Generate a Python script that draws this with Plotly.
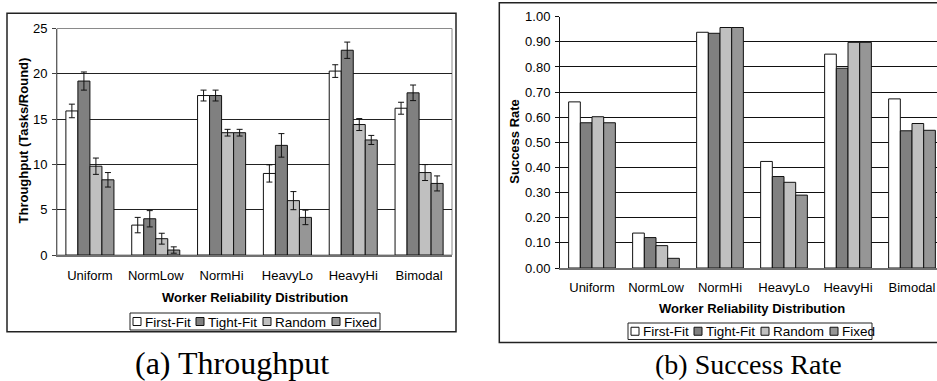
import plotly.graph_objects as go

W, H = 937, 381

categories = ["Uniform", "NormLow", "NormHi", "HeavyLo", "HeavyHi", "Bimodal"]
series_names = ["First-Fit", "Tight-Fit", "Random", "Fixed"]
series_colors = ["#FFFFFF", "#808080", "#C0C0C0", "#969696"]

# (a) Throughput (Tasks/Round)
thr_first = [15.9, 3.3, 17.6, 9.0, 20.3, 16.2]
thr_tight = [19.2, 4.0, 17.6, 12.1, 22.6, 17.9]
thr_random = [9.8, 1.8, 13.5, 6.0, 14.4, 9.1]
thr_fixed = [8.3, 0.55, 13.5, 4.15, 12.7, 7.9]
err_first = [0.75, 0.85, 0.6, 0.95, 0.7, 0.66]
err_tight = [1.0, 0.9, 0.6, 1.3, 0.9, 0.86]
err_random = [0.9, 0.6, 0.37, 1.0, 0.66, 0.88]
err_fixed = [0.8, 0.35, 0.37, 0.8, 0.5, 0.83]

# (b) Success rate
sr_first = [0.661, 0.139, 0.938, 0.424, 0.851, 0.673]
sr_tight = [0.578, 0.121, 0.934, 0.364, 0.795, 0.546]
sr_random = [0.602, 0.089, 0.957, 0.341, 0.898, 0.575]
sr_fixed = [0.578, 0.0385, 0.957, 0.290, 0.898, 0.548]

thr_ticks = [0, 5, 10, 15, 20, 25]
sr_ticks = [0.0, 0.1, 0.2, 0.3, 0.4, 0.5, 0.6, 0.7, 0.8, 0.9, 1.0]

SANS = "Liberation Sans, Arial, sans-serif"
SERIF = "Liberation Serif, Times New Roman, serif"


def px(x):
    return x / W


def py(y):
    return 1 - y / H


fig = go.Figure()

thr_vals = [thr_first, thr_tight, thr_random, thr_fixed]
thr_errs = [err_first, err_tight, err_random, err_fixed]
sr_vals = [sr_first, sr_tight, sr_random, sr_fixed]

for name, color, vals, errs in zip(series_names, series_colors, thr_vals, thr_errs):
    fig.add_trace(go.Bar(
        x=categories, y=vals, name=name, xaxis="x", yaxis="y",
        marker=dict(color=color, line=dict(color="#111111", width=1)),
        error_y=dict(type="data", array=errs, visible=True,
                     color="#111111", thickness=1, width=3),
        showlegend=False,
    ))

for name, color, vals in zip(series_names, series_colors, sr_vals):
    fig.add_trace(go.Bar(
        x=categories, y=vals, name=name, xaxis="x2", yaxis="y2",
        marker=dict(color=color, line=dict(color="#111111", width=1)),
        showlegend=False,
    ))

# plot areas (pixels)
L_x0, L_x1, L_y0, L_y1 = 57, 452, 28.5, 255
R_x0, R_x1, R_y0, R_y1 = 560, 937, 16.7, 268
cat_w_right = 64.0
r_range_max = -0.5 + (R_x1 - R_x0) / cat_w_right

tickfont = dict(family=SANS, size=13, color="#000000")

fig.update_layout(
    width=W, height=H,
    margin=dict(l=0, r=0, t=0, b=0, autoexpand=False),
    paper_bgcolor="#FFFFFF", plot_bgcolor="#FFFFFF",
    barmode="group", bargap=0.27, bargroupgap=0,
    showlegend=False,
    xaxis=dict(
        domain=[px(L_x0), px(L_x1)], anchor="y", automargin=False,
        type="category", range=[-0.5, 5.5],
        showline=True, linecolor="#707070", linewidth=2,
        ticks="", tickfont=tickfont, ticklabelstandoff=7,
        showgrid=False, zeroline=False, fixedrange=True,
    ),
    yaxis=dict(
        domain=[py(L_y1), py(L_y0)], anchor="x", automargin=False,
        range=[0, 25], tickvals=thr_ticks,
        showline=True, linecolor="#606060", linewidth=1,
        ticks="outside", ticklen=4, tickcolor="#404040",
        tickfont=tickfont, ticklabelstandoff=2,
        showgrid=True, gridcolor="#222222", gridwidth=1,
        zeroline=False, fixedrange=True,
    ),
    xaxis2=dict(
        domain=[px(R_x0), 1.0], anchor="y2", automargin=False,
        type="category", range=[-0.5, r_range_max],
        showline=True, linecolor="#707070", linewidth=2,
        ticks="", tickfont=tickfont, ticklabelstandoff=6,
        showgrid=False, zeroline=False, fixedrange=True,
    ),
    yaxis2=dict(
        domain=[py(R_y1), py(R_y0)], anchor="x2", automargin=False,
        range=[0, 1.0], tickvals=sr_ticks, tickformat=".2f",
        showline=True, linecolor="#111111", linewidth=1,
        ticks="outside", ticklen=4, tickcolor="#111111",
        tickfont=tickfont, ticklabelstandoff=2,
        showgrid=True, gridcolor="#111111", gridwidth=1,
        zeroline=False, fixedrange=True,
    ),
)

shapes = []
annotations = []

# outer chart frames
shapes.append(dict(type="rect", xref="paper", yref="paper",
                   x0=px(7), x1=px(456), y0=py(331.7), y1=py(13.3),
                   line=dict(color="#222222", width=1.5), layer="below"))
shapes.append(dict(type="rect", xref="paper", yref="paper",
                   x0=px(499.3), x1=px(990), y0=py(342.5), y1=py(2.7),
                   line=dict(color="#222222", width=1.5), layer="below"))
# left plot-area border (gray)
shapes.append(dict(type="rect", xref="paper", yref="paper",
                   x0=px(L_x0), x1=px(L_x1), y0=py(L_y1), y1=py(L_y0),
                   line=dict(color="#8a8a8a", width=1), layer="below"))

# axis titles
annotations.append(dict(text="<b>Worker Reliability Distribution</b>", x=px(255), y=py(297),
                        xref="paper", yref="paper", showarrow=False,
                        xanchor="center", yanchor="middle",
                        font=dict(family=SANS, size=13, color="#000")))
annotations.append(dict(text="<b>Worker Reliability Distribution</b>", x=px(752), y=py(308),
                        xref="paper", yref="paper", showarrow=False,
                        xanchor="center", yanchor="middle",
                        font=dict(family=SANS, size=13, color="#000")))
annotations.append(dict(text="<b>Throughput (Tasks/Round)</b>", x=px(23), y=py(140.5),
                        xref="paper", yref="paper", showarrow=False, textangle=-90,
                        xanchor="center", yanchor="middle",
                        font=dict(family=SANS, size=13, color="#000")))
annotations.append(dict(text="<b>Success Rate</b>", x=px(515), y=py(141.7),
                        xref="paper", yref="paper", showarrow=False, textangle=-90,
                        xanchor="center", yanchor="middle",
                        font=dict(family=SANS, size=13, color="#000")))

# captions
annotations.append(dict(text="(a) Throughput", x=px(231.5), y=py(363),
                        xref="paper", yref="paper", showarrow=False,
                        xanchor="center", yanchor="middle",
                        font=dict(family=SERIF, size=32, color="#000")))
annotations.append(dict(text="(b) Success Rate", x=px(748), y=py(364),
                        xref="paper", yref="paper", showarrow=False,
                        xanchor="center", yanchor="middle",
                        font=dict(family=SERIF, size=28, color="#000")))

# custom legends
sq_off = [3, 66, 133, 202]
def add_legend(bx0, by0, bx1, by1):
    shapes.append(dict(type="rect", xref="paper", yref="paper",
                       x0=px(bx0), x1=px(bx1), y0=py(by1), y1=py(by0),
                       line=dict(color="#222222", width=1), fillcolor="#FFFFFF"))
    cy = (by0 + by1) / 2
    for off, name, color in zip(sq_off, series_names, series_colors):
        sx = bx0 + off
        shapes.append(dict(type="rect", xref="paper", yref="paper",
                           x0=px(sx), x1=px(sx + 8), y0=py(cy + 4), y1=py(cy - 4),
                           line=dict(color="#111111", width=1), fillcolor=color))
        annotations.append(dict(text=name, x=px(sx + 10), y=py(cy + 0.5),
                                xref="paper", yref="paper", showarrow=False,
                                xanchor="left", yanchor="middle",
                                font=dict(family=SANS, size=13.5, color="#000")))

add_legend(130, 313, 380, 330)
add_legend(628, 323, 872, 339.5)

fig.update_layout(shapes=shapes, annotations=annotations)

fig.write_html(
    "out.html",
    config={"displayModeBar": False, "staticPlot": True},
    post_script="document.body.style.margin='0';document.body.style.padding='0';"
                "document.documentElement.style.overflow='hidden';",
)
